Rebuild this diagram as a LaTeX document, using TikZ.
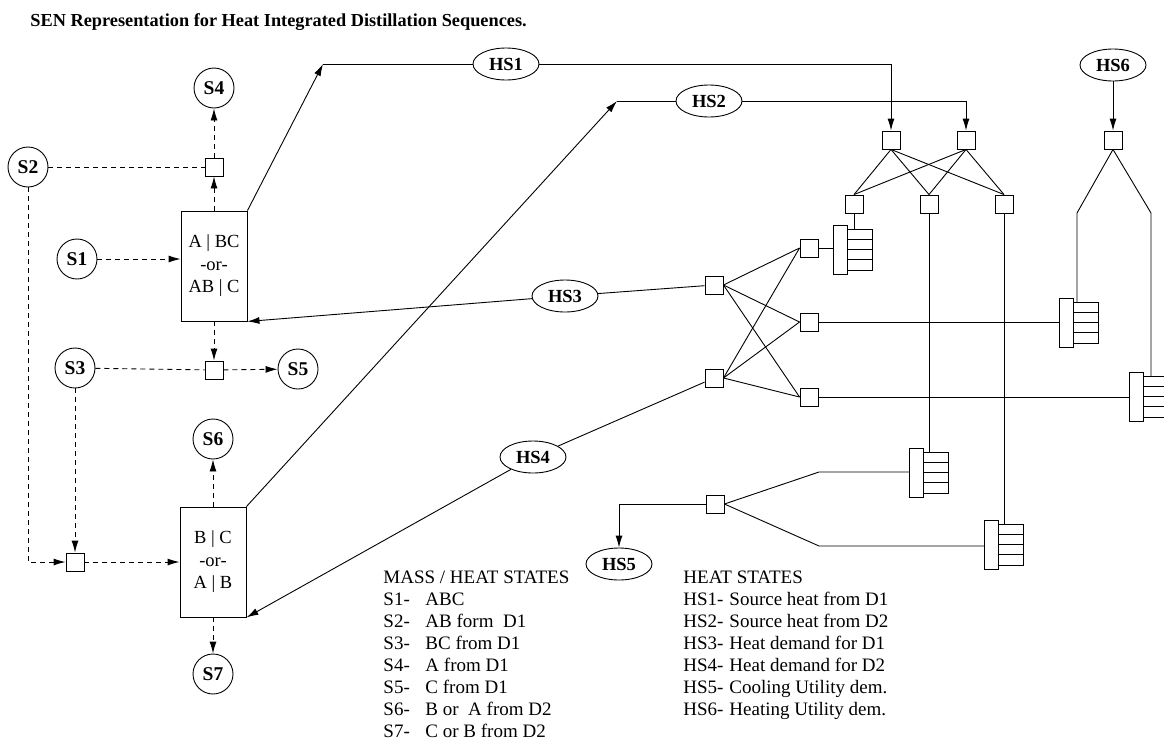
\documentclass[tikz,border=0pt]{standalone}
\usepackage{fontspec}
\setmainfont{Liberation Serif}
\usetikzlibrary{arrows.meta,shapes.geometric,calc}
\begin{document}
\begin{tikzpicture}[x=1pt,y=-1pt,line width=0.9pt,
  >={Latex[length=12pt,width=7pt]},
  circ/.style={circle,draw,minimum size=40pt,inner sep=0pt,font=\fontsize{19.5}{22}\selectfont\bfseries},
  hs/.style={ellipse,draw,minimum width=66pt,minimum height=32pt,inner sep=0pt,font=\fontsize{18.5}{22}\selectfont\bfseries},
  sq/.style={rectangle,draw,minimum size=18pt,inner sep=0pt},
  col/.style={rectangle,draw,minimum width=66pt,minimum height=110pt,inner sep=0pt,align=center,font=\fontsize{18.5}{22.5}\selectfont},
  dsh/.style={dash pattern=on 5pt off 4pt},
  legtxt/.style={anchor=base west,inner sep=0pt,font=\fontsize{19}{22}\selectfont},
  hx/.pic={
    \node[draw,rectangle,inner sep=0pt,minimum width=14pt,minimum height=49pt,anchor=north west] (-body) at (0,0) {};
    \draw (14,4) rectangle (39,45);
    \draw (14,14.25) -- (39,14.25) (14,24.5) -- (39,24.5) (14,34.75) -- (39,34.75);
    \coordinate (-top) at (26,4);
  }]
\useasboundingbox (0,0) rectangle (1164,742);

% title
\node[anchor=base west,inner sep=0pt,font=\fontsize{18.3}{22}\selectfont\bfseries] (title) at (30,26)
  {SEN Representation for Heat Integrated Distillation Sequences.};

% mass states
\node[circ] (S4) at (214,88) {S4};
\node[circ] (S2) at (28,167) {S2};
\node[sq] (qa) at (214,167) {};
\node[col] (D1) at (214,266) {A | BC\\-or-\\AB | C};
\node[circ] (S1) at (77,259) {S1};
\node[sq] (qb) at (214,370) {};
\node[circ] (S3) at (75,368) {S3};
\node[circ] (S5) at (298,369) {S5};
\node[sq] (qc) at (75,562) {};
\node[col] (D2) at (213,562) {B | C\\-or-\\A | B};
\node[circ] (S6) at (213,439) {S6};
\node[circ] (S7) at (213,674) {S7};

\draw[dsh] (S2) -- (qa);
\draw[dsh,->] (D1) -- (qa);
\draw[dsh,->] (qa) -- (S4);
\draw[dsh,->] (S1) -- (S1 -| D1.west);
\draw[dsh,->] (D1) -- (qb);
\draw[dsh] (S3) -- (qb);
\draw[dsh,->] (qb) -- (S5);
\draw[dsh,->] (S2) |- (qc);
\draw[dsh,->] (S3) -- (qc);
\draw[dsh,->] (qc) -- (qc -| D2.west);
\draw[dsh,->] (D2) -- (S6);
\draw[dsh,->] (D2) -- (S7);

% heat states
\coordinate (h1s) at (323,64);
\node[hs] (HS1) at (506,64) {HS1};
\node[sq] (qh1) at (891,140) {};
\draw[->] (D1.north east) -- (h1s);
\draw (h1s) -- (HS1);
\draw[->] (HS1) -| (qh1);

\coordinate (h2s) at (617,101);
\node[hs] (HS2) at (709,101) {HS2};
\node[sq] (qh2) at (966,140) {};
\draw[->] (D2.north east) -- (h2s);
\draw (h2s) -- (HS2);
\draw[->] (HS2) -| (qh2);

\node[hs] (HS6) at (1113,65) {HS6};
\node[sq] (qh6) at (1113,140) {};
\draw[->] (HS6) -- (qh6);

\node[sq] (m1) at (854,204) {};
\node[sq] (m2) at (929,204) {};
\node[sq] (m3) at (1004,204) {};
\foreach \a in {qh1,qh2}
  \foreach \b in {m1,m2,m3}
    \draw (\a.south) -- (\b.north);

\node[hs] (HS3) at (565,296) {HS3};
\node[hs] (HS4) at (533,457) {HS4};
\node[sq] (sp3) at (714,285) {};
\node[sq] (sp4) at (714,378) {};
\node[sq] (r1) at (809,248) {};
\node[sq] (r2) at (809,322) {};
\node[sq] (r3) at (809,397) {};
\draw[->] (HS3) -- (D1.south east);
\draw (HS3) -- (sp3);
\draw[->] (HS4) -- (D2.south east);
\draw (HS4) -- (sp4);
\foreach \a in {sp3,sp4}
  \foreach \b in {r1,r2,r3}
    \draw (\a.east) -- (\b.west);

% exchangers
\pic (hx1) at (833,225) {hx};
\pic (hx2) at (1059,298) {hx};
\pic (hx3) at (1129,372) {hx};
\pic (hx4) at (909,448) {hx};
\pic (hx5) at (984,520) {hx};

\draw (r1.east) -- (r1 -| hx1-body.west);
\draw (r2.east) -- (r2 -| hx2-body.west);
\draw (r3.east) -- (r3 -| hx3-body.west);
\draw (m1.south) -- (m1 |- hx1-top);
\draw (m2.south) -- (m2 |- hx4-top);
\draw (m3.south) -- (m3 |- hx5-top);

\coordinate (b6l) at (1077,213);
\coordinate (b6r) at (1151,213);
\draw (qh6.south) -- (b6l) -- (b6l |- hx2-top);
\draw (qh6.south) -- (b6r) -- (b6r |- hx3-top);

\node[sq] (sp5) at (715,504) {};
\node[hs] (HS5) at (619,564) {HS5};
\coordinate (b5u) at (819,472);
\coordinate (b5d) at (819,546);
\draw (sp5.east) -- (b5u) -- (b5u -| hx4-body.west);
\draw (sp5.east) -- (b5d) -- (b5d -| hx5-body.west);
\draw[->] (sp5.west) -| (HS5.north);

% legends
\node[legtxt] (mh) at (383,583) {MASS / HEAT STATES};
\foreach \i/\l/\d in {1/S1-/ABC,2/S2-/AB form~~D1,3/S3-/BC from D1,4/S4-/A from D1,
                      5/S5-/C from D1,6/S6-/B or~~A from D2,7/S7-/C or B from D2}{
  \node[legtxt] (sl\i) at (383,{583+22*\i}) {\l};
  \node[legtxt] (sd\i) at (425,{583+22*\i}) {\d};
}
\node[legtxt] (hh) at (683,583) {HEAT STATES};
\foreach \i/\l/\d in {1/HS1-/Source heat from D1,2/HS2-/Source heat from D2,3/HS3-/Heat demand for D1,
                      4/HS4-/Heat demand for D2,5/HS5-/Cooling Utility dem.,6/HS6-/Heating Utility dem.}{
  \node[legtxt] (hl\i) at (683,{583+22*\i}) {\l};
  \node[legtxt] (hd\i) at (729,{583+22*\i}) {\d};
}
\end{tikzpicture}
\end{document}
